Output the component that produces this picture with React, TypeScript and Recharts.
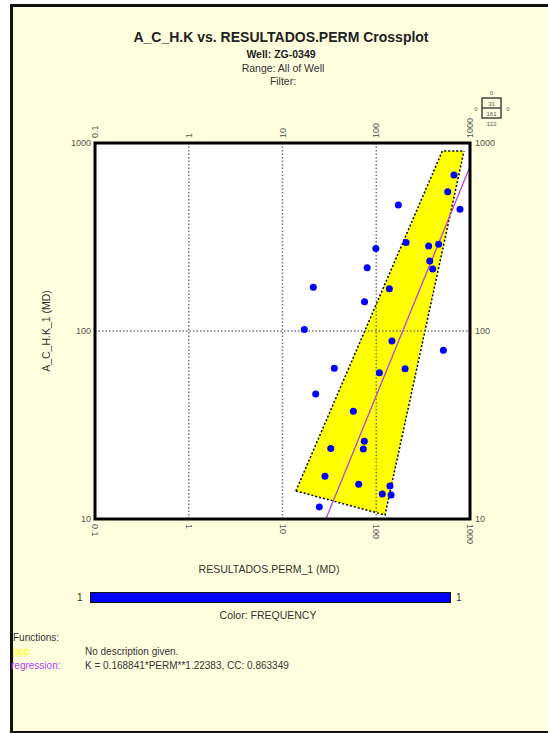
import React from "react"
import {
  ComposedChart,
  XAxis,
  YAxis,
  Scatter,
  Line,
  Area,
  ReferenceLine,
  ReferenceArea,
} from "recharts"

// axis ticks
const xTicks = [0.1, 1, 10, 100, 1000]
const yTicks = [10, 100, 1000]
const gridX = [1, 10, 100]
const gridY = [100]

// crossplot points: RESULTADOS.PERM_1 vs A_C_H.K_1 (MD)
const permValues = [
  172, 675, 578, 782, 208, 99, 362, 463, 372, 400, 80, 21.3, 138, 75, 17.1, 147, 520, 35.7, 108,
  203, 22.6, 57, 74.6, 72.8, 32.7, 28.4, 64.9, 140, 116, 144, 24.7,
]
const khValues = [
  468, 676, 551, 444, 296, 275, 283, 289, 236, 214, 217, 171, 168, 143, 102, 88.5, 79, 63.3, 60,
  63, 46.2, 37.4, 25.9, 23.6, 23.7, 16.9, 15.3, 15.0, 13.6, 13.4, 11.6,
]

// regression line ends
const regPerm = [29, 1000]
const regK = [10, 750]

// yellow band corners (low / high edge at each perm)
const bandPerm = [13.9, 124, 507, 863]
const bandLow = [14.1, 10.5, 267, 906]
const bandHigh = [14.1, 178, 906, 906]

const points = permValues.map((x, i) => ({ x, y: khValues[i] }))
const regData = regPerm.map((x, i) => ({ x, y: regK[i] }))
const bandData = bandPerm.map((x, i) => ({ x, range: [bandLow[i], bandHigh[i]] }))

const FONT = '"Liberation Sans", Arial, sans-serif'
const fmt = (v: number) => String(v)

const BottomTick = (p: any) => (
  <text
    transform={`translate(${p.x - 3},${p.y + 3}) rotate(90)`}
    fontSize={9}
    fill="#555"
    fontFamily={FONT}
    textAnchor="start"
  >
    {fmt(p.payload.value)}
  </text>
)

const TopTick = (p: any) => (
  <text
    transform={`translate(${p.x + 3},${p.y - 3}) rotate(-90)`}
    fontSize={9}
    fill="#555"
    fontFamily={FONT}
    textAnchor="start"
  >
    {fmt(p.payload.value)}
  </text>
)

const LeftTick = (p: any) => (
  <text x={p.x - 2} y={p.y + 3} fontSize={9} fill="#555" fontFamily={FONT} textAnchor="end">
    {fmt(p.payload.value)}
  </text>
)

const RightTick = (p: any) => (
  <text x={p.x + 3} y={p.y + 3} fontSize={9} fill="#555" fontFamily={FONT} textAnchor="start">
    {fmt(p.payload.value)}
  </text>
)

const abs = (left: number, top: number, extra: React.CSSProperties = {}): React.CSSProperties => ({
  position: "absolute",
  left,
  top,
  fontFamily: FONT,
  whiteSpace: "nowrap",
  lineHeight: 1,
  ...extra,
})

export default function App() {
  return (
    <div style={{ position: "absolute", left: 0, top: 0, width: 548, height: 733, background: "#fff", overflow: "hidden" }}>
      <div
        style={{
          position: "absolute",
          left: 10,
          top: 4,
          width: 560,
          height: 724,
          border: "3px solid #111",
          background: "#ffffe0",
        }}
      />

      <div style={{ position: "absolute", left: 0, top: 0 }}>
        <ComposedChart width={548} height={733} margin={{ top: 113, right: 38, bottom: 184, left: 55 }}>
          <XAxis
            xAxisId="b"
            dataKey="x"
            type="number"
            scale="log"
            domain={[0.1, 1000]}
            allowDataOverflow
            ticks={xTicks}
            orientation="bottom"
            height={30}
            axisLine={false}
            tickLine={false}
            tickSize={0}
            tick={<BottomTick />}
          />
          <XAxis
            xAxisId="t"
            dataKey="x"
            type="number"
            scale="log"
            domain={[0.1, 1000]}
            allowDataOverflow
            ticks={xTicks}
            orientation="top"
            height={30}
            axisLine={false}
            tickLine={false}
            tickSize={0}
            tick={<TopTick />}
          />
          <YAxis
            yAxisId="l"
            type="number"
            scale="log"
            domain={[10, 1000]}
            allowDataOverflow
            ticks={yTicks}
            orientation="left"
            width={40}
            axisLine={false}
            tickLine={false}
            tickSize={0}
            tick={<LeftTick />}
          />
          <YAxis
            yAxisId="r"
            type="number"
            scale="log"
            domain={[10, 1000]}
            allowDataOverflow
            ticks={yTicks}
            orientation="right"
            width={40}
            axisLine={false}
            tickLine={false}
            tickSize={0}
            tick={<RightTick />}
          />

          <ReferenceArea
            xAxisId="b"
            yAxisId="l"
            x1={0.1}
            x2={1000}
            y1={10}
            y2={1000}
            fill="#ffffff"
            fillOpacity={1}
            stroke="none"
            zIndex={-100}
          />

          <Area
            xAxisId="b"
            yAxisId="l"
            data={bandData}
            dataKey="range"
            type="linear"
            fill="#ffff00"
            fillOpacity={1}
            stroke="#000"
            strokeWidth={1.5}
            strokeDasharray="2 2"
            isAnimationActive={false}
            activeDot={false}
            dot={false}
            zIndex={100}
          />

          {gridX.map((v) => (
            <ReferenceLine
              key={"gx" + v}
              xAxisId="b"
              yAxisId="l"
              x={v}
              stroke="#777"
              strokeWidth={1.5}
              strokeDasharray="1.5 2"
              zIndex={150}
            />
          ))}
          {gridY.map((v) => (
            <ReferenceLine
              key={"gy" + v}
              xAxisId="b"
              yAxisId="l"
              y={v}
              stroke="#777"
              strokeWidth={1.5}
              strokeDasharray="1.5 2"
              zIndex={150}
            />
          ))}

          <Line
            xAxisId="b"
            yAxisId="l"
            data={regData}
            dataKey="y"
            type="linear"
            stroke="#c040e0"
            strokeWidth={1.3}
            dot={false}
            activeDot={false}
            isAnimationActive={false}
            zIndex={400}
          />

          <Scatter
            xAxisId="b"
            yAxisId="l"
            data={points}
            dataKey="y"
            isAnimationActive={false}
            shape={(p: any) => <circle cx={p.cx} cy={p.cy} r={3.5} fill="#0000ff" />}
            zIndex={600}
          />

          <ReferenceArea
            xAxisId="b"
            yAxisId="l"
            x1={0.1}
            x2={1000}
            y1={10}
            y2={1000}
            fill="none"
            stroke="#000"
            strokeWidth={3}
            ifOverflow="visible"
            zIndex={700}
          />
        </ComposedChart>
      </div>

      {/* header */}
      <div style={abs(81, 30, { width: 400, textAlign: "center", fontSize: 14, fontWeight: "bold", color: "#222" })}>
        A_C_H.K vs. RESULTADOS.PERM Crossplot
      </div>
      <div style={abs(81, 49, { width: 400, textAlign: "center", fontSize: 10.5, fontWeight: "bold", color: "#222" })}>
        Well: ZG-0349
      </div>
      <div style={abs(83, 63, { width: 400, textAlign: "center", fontSize: 10.5, color: "#333" })}>
        Range: All of Well
      </div>
      <div style={abs(83, 76, { width: 400, textAlign: "center", fontSize: 10.5, color: "#333" })}>
        Filter:
      </div>

      {/* quadrant count box */}
      <svg style={{ position: "absolute", left: 468, top: 88 }} width={50} height={45}>
        <rect x={14} y={10} width={19} height={20} fill="none" stroke="#444" strokeWidth={1.5} />
        <line x1={14} y1={20} x2={33} y2={20} stroke="#444" strokeWidth={1.5} />
        <text x={23.5} y={18} fontSize={6} textAnchor="middle" fill="#555" fontFamily={FONT}>31</text>
        <text x={23.5} y={28} fontSize={6} textAnchor="middle" fill="#555" fontFamily={FONT}>161</text>
        <text x={23.5} y={7} fontSize={6} textAnchor="middle" fill="#555" fontFamily={FONT}>0</text>
        <text x={23.5} y={38} fontSize={6} textAnchor="middle" fill="#555" fontFamily={FONT}>122</text>
        <text x={8} y={23} fontSize={6} textAnchor="middle" fill="#555" fontFamily={FONT}>0</text>
        <text x={40} y={23} fontSize={6} textAnchor="middle" fill="#555" fontFamily={FONT}>0</text>
      </svg>

      {/* axis titles */}
      <div
        style={abs(46, 331, {
          fontSize: 10.5,
          color: "#333",
          transform: "translate(-50%, -50%) rotate(-90deg)",
        })}
      >
        A_C_H.K_1 (MD)
      </div>
      <div style={abs(69, 564, { width: 400, textAlign: "center", fontSize: 10.5, color: "#333" })}>
        RESULTADOS.PERM_1 (MD)
      </div>

      {/* colour bar */}
      <div style={abs(77, 593, { fontSize: 10, color: "#333" })}>1</div>
      <div style={{ position: "absolute", left: 90, top: 592, width: 359, height: 9, background: "#0000ff", border: "1.5px solid #111" }} />
      <div style={abs(456, 593, { fontSize: 10, color: "#333" })}>1</div>
      <div style={abs(68, 610, { width: 400, textAlign: "center", fontSize: 10.5, color: "#333" })}>
        Color: FREQUENCY
      </div>

      {/* functions */}
      <div style={abs(13, 633, { fontSize: 10, color: "#333" })}>Functions:</div>
      <div style={abs(13, 647, { fontSize: 10, color: "#ffff00" })}>ppp:</div>
      <div style={abs(85, 647, { fontSize: 10, color: "#333" })}>No description given.</div>
      <div style={abs(11, 661, { fontSize: 10, color: "#b040f0" })}>regression:</div>
      <div style={abs(85, 661, { fontSize: 10, color: "#333" })}>
        K = 0.168841*PERM**1.22383, CC: 0.863349
      </div>
    </div>
  )
}
